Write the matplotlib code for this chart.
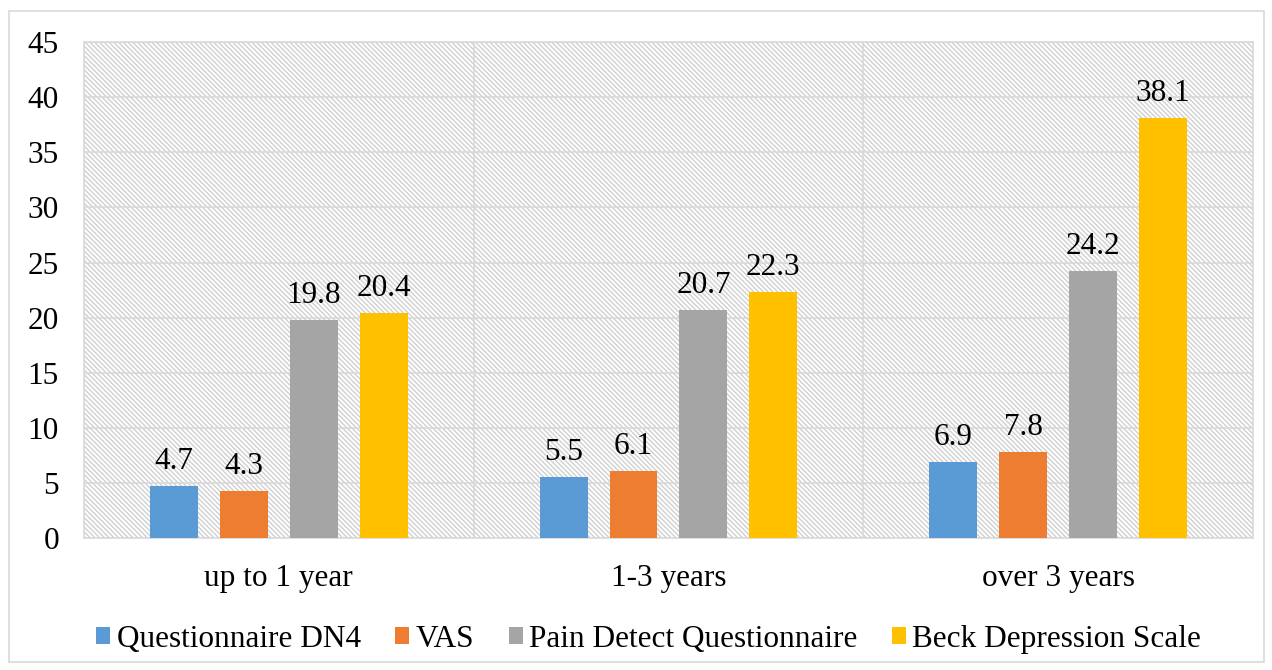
import matplotlib
matplotlib.use("Agg")
import matplotlib.pyplot as plt
import numpy as np
from matplotlib.patches import Rectangle

plt.rcParams['font.family'] = ['Liberation Serif', 'DejaVu Serif']
plt.rcParams['hatch.color'] = '#d0d0d0'
plt.rcParams['hatch.linewidth'] = 1.0

categories = ["up to 1 year", "1-3 years", "over 3 years"]
series = ["Questionnaire DN4", "VAS", "Pain Detect Questionnaire", "Beck Depression Scale"]
dn4 = [4.7, 5.5, 6.9]
vas = [4.3, 6.1, 7.8]
pain_detect = [19.8, 20.7, 24.2]
beck = [20.4, 22.3, 38.1]
colors = ["#5b9bd5", "#ed7d31", "#a5a5a5", "#ffc000"]

fs = 22.5

fig = plt.figure(figsize=(12.72, 6.7), dpi=100)
# outer chart border
fig.patches.append(Rectangle((0.007, 0.012), 0.987, 0.972, transform=fig.transFigure,
                             fill=False, edgecolor='#d9d9d9', linewidth=1.2))
ax = fig.add_axes([0.066, 0.197, 0.919, 0.74])

x = np.arange(len(categories))
offsets = [-0.269, -0.0897, 0.0897, 0.269]
width = 0.123

# hatched background
ax.add_patch(Rectangle((-0.5, 0), 3, 45, facecolor='white', hatch='\\\\\\\\\\\\\\',
                       edgecolor='#d0d0d0', linewidth=0, zorder=0))

for vals, off, col, name in zip([dn4, vas, pain_detect, beck], offsets, colors, series):
    bars = ax.bar(x + off, vals, width, color=col, label=name, zorder=3)
    for b, v in zip(bars, vals):
        ax.text(b.get_x() + b.get_width() / 2, v + 0.9, f"{v}", ha='center', va='bottom',
                fontsize=fs, zorder=4)

ax.set_xlim(-0.5, 2.5)
ax.set_ylim(0, 45)
ax.set_yticks(range(0, 50, 5))
ax.set_xticks(x)
ax.set_xticklabels(categories)
ax.tick_params(axis='both', length=0, labelsize=fs)
ax.tick_params(axis='x', pad=19)
ax.tick_params(axis='y', pad=18)

ax.yaxis.grid(True, color='#d9d9d9', linewidth=1.2, zorder=1)
for xv in [0.5, 1.5]:
    ax.axvline(xv, color='#d9d9d9', linewidth=1.2, zorder=1)
ax.set_axisbelow(True)
for s in ax.spines.values():
    s.set_color('#d9d9d9')
    s.set_linewidth(1.2)

ax.legend(loc='upper center', bbox_to_anchor=(0.483, -0.118), ncol=4, frameon=False,
          fontsize=fs, handlelength=0.45, handleheight=0.45, handletextpad=0.2,
          columnspacing=1.1)

plt.savefig('out.png', dpi=100)
